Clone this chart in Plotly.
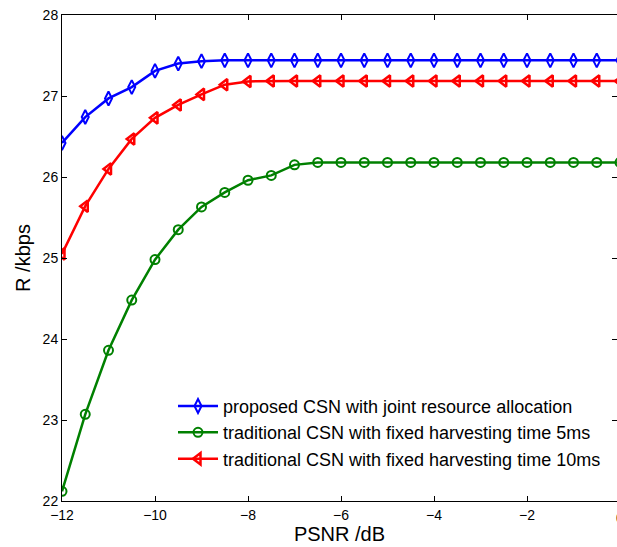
import plotly.graph_objects as go

psnr = [-12 + 0.5 * i for i in range(25)]
proposed = [26.42, 26.74, 26.97, 27.11, 27.31, 27.40, 27.43, 27.44] + [27.44] * 17
trad_5ms = [22.12, 23.07, 23.86, 24.48, 24.98, 25.35, 25.63, 25.81, 25.96, 26.02, 26.15, 26.18] + [26.18] * 13
trad_10ms = [25.05, 25.64, 26.10, 26.47, 26.73, 26.89, 27.02, 27.14, 27.18] + [27.185] * 16

names = ["proposed CSN with joint resource allocation",
         "traditional CSN with fixed harvesting time 5ms",
         "traditional CSN with fixed harvesting time 10ms"]
x_ticks = [-12, -10, -8, -6, -4, -2]
x_ticktext = ["\u221212", "\u221210", "\u22128", "\u22126", "\u22124", "\u22122"]
y_ticks = [22, 23, 24, 25, 26, 27, 28]

FONT = "Liberation Sans, Arial, sans-serif"

fig = go.Figure()
fig.add_trace(go.Scatter(x=psnr, y=proposed, name=names[0], mode="lines+markers",
                         line=dict(color="#0000ff", width=2.5),
                         marker=dict(symbol="diamond-tall-open", size=10, color="#0000ff",
                                     line=dict(width=2, color="#0000ff"))))
fig.add_trace(go.Scatter(x=psnr, y=trad_5ms, name=names[1], mode="lines+markers",
                         line=dict(color="#008000", width=2.5),
                         marker=dict(symbol="circle-open", size=9, color="#008000",
                                     line=dict(width=2, color="#008000"))))
fig.add_trace(go.Scatter(x=psnr, y=trad_10ms, name=names[2], mode="lines+markers",
                         line=dict(color="#ff0000", width=2.5),
                         marker=dict(symbol="triangle-left-open", size=10, color="#ff0000",
                                     line=dict(width=2.5, color="#ff0000"))))
# invisible trace to create right-side ticks
fig.add_trace(go.Scatter(x=[psnr[0]], y=[proposed[0]], yaxis="y2", showlegend=False,
                         mode="markers", marker=dict(opacity=0), hoverinfo="skip"))

x_end = -12 + 555 / 46.5
fig.update_layout(
    width=617, height=547,
    margin=dict(l=62, r=0, t=15, b=46),
    plot_bgcolor="white", paper_bgcolor="white",
    font=dict(family=FONT, color="#000000"),
    showlegend=True,
    legend=dict(x=0.2, y=0.233, xanchor="left", yanchor="top",
                bgcolor="rgba(255,255,255,0)", borderwidth=0,
                font=dict(size=18, family=FONT), tracegroupgap=0, itemwidth=40),
    xaxis=dict(range=[-12, x_end], tickvals=x_ticks, ticktext=x_ticktext,
               ticks="inside", ticklen=5, tickcolor="#000", showline=True, linecolor="#000",
               linewidth=1, mirror="ticks", showgrid=False, zeroline=False,
               tickfont=dict(size=14, family=FONT), ticklabelstandoff=1,
               title=dict(text="PSNR /dB", font=dict(size=20, family=FONT), standoff=3)),
    yaxis=dict(range=[22, 28], tickvals=y_ticks, ticks="inside", ticklen=5, tickcolor="#000",
               showline=True, linecolor="#000", linewidth=1, mirror=False,
               showgrid=False, zeroline=False, tickfont=dict(size=14, family=FONT),
               title=dict(text="R /kbps", font=dict(size=20, family=FONT), standoff=6)),
    yaxis2=dict(range=[22, 28], tickvals=y_ticks, overlaying="y", side="right",
                ticks="inside", ticklen=5, tickcolor="#000", showticklabels=False,
                showline=False, showgrid=False, zeroline=False),
)
fig.add_annotation(xref="paper", yref="paper", x=12 / (x_end + 12), y=0,
                   yshift=-7, text="0", showarrow=False, xanchor="center", yanchor="top",
                   font=dict(size=14, family=FONT))
fig.write_html("out.html")
